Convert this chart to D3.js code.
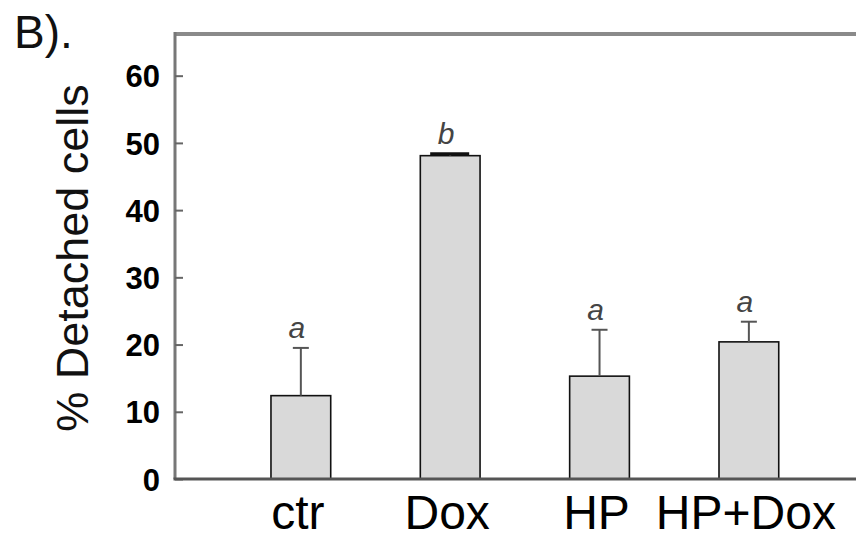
<!DOCTYPE html>
<html>
<head>
<meta charset="utf-8">
<script src="https://cdn.jsdelivr.net/npm/d3@7"></script>
<style>
  html, body { margin: 0; padding: 0; background: #fff; }
  svg { display: block; }
  text { font-family: Arial, "Liberation Sans", sans-serif; }
</style>
</head>
<body>
<script>
const categories = ["ctr", "Dox", "HP", "HP+Dox"];
const means = [12.4, 48.1, 15.3, 20.4];
const errors = [7.1, 0.3, 6.9, 3.0];
const letters = ["a", "b", "a", "a"];
const yTicks = [0, 10, 20, 30, 40, 50, 60];
const yLabel = "% Detached cells";
const panelLabel = "B).";

(function () {
const W = 856, H = 540;
const pLeft = 175, pRight = 856, pTop = 34, pBottom = 479;

const svg = d3.select("body").append("svg").attr("width", W).attr("height", H);

const x = d3.scaleBand().domain(categories).range([pLeft, pRight])
  .paddingInner(0.6).paddingOuter(0.58).align(0.554);
const y = d3.scaleLinear().domain([0, 66.2]).range([pBottom, pTop]);

const data = categories.map((c, i) => ({ c, v: means[i], e: errors[i], l: letters[i] }));

// frame
svg.append("line").attr("x1", pLeft).attr("x2", pRight).attr("y1", pTop).attr("y2", pTop)
  .attr("stroke", "#8a8a8a").attr("stroke-width", 4);
svg.append("line").attr("x1", pLeft).attr("x2", pLeft).attr("y1", pTop - 2).attr("y2", pBottom)
  .attr("stroke", "#777").attr("stroke-width", 3);

// y axis
const yAxis = d3.axisLeft(y).tickValues(yTicks).tickSizeInner(-8).tickSizeOuter(0).tickPadding(15);
const gy = svg.append("g").attr("transform", `translate(${pLeft},0)`).call(yAxis);
gy.select(".domain").remove();
gy.selectAll(".tick line").attr("stroke", "#666").attr("stroke-width", 2);
gy.selectAll(".tick text").attr("fill", "#000").attr("font-size", 31).attr("font-weight", "bold")
  .attr("font-family", "Arial, 'Liberation Sans', sans-serif").attr("dy", "0.36em");

// bars
svg.selectAll("rect.bar").data(data).join("rect").attr("class", "bar")
  .attr("x", d => x(d.c)).attr("width", x.bandwidth())
  .attr("y", d => y(d.v)).attr("height", d => y(0) - y(d.v))
  .attr("fill", "#d9d9d9").attr("stroke", "#111").attr("stroke-width", 1.6);

// error bars
const eb = svg.selectAll("g.err").data(data).join("g").attr("class", "err");
eb.append("line")
  .attr("x1", d => x(d.c) + x.bandwidth() / 2).attr("x2", d => x(d.c) + x.bandwidth() / 2)
  .attr("y1", d => y(d.v)).attr("y2", d => y(d.v + d.e))
  .attr("stroke", "#555").attr("stroke-width", 2);
eb.append("line")
  .attr("x1", d => x(d.c) + x.bandwidth() / 2 - (d.e < 1 ? 20 : 8))
  .attr("x2", d => x(d.c) + x.bandwidth() / 2 + (d.e < 1 ? 19 : 8))
  .attr("y1", d => y(d.v + d.e)).attr("y2", d => y(d.v + d.e))
  .attr("stroke", d => d.e < 1 ? "#111" : "#555").attr("stroke-width", d => d.e < 1 ? 3 : 2);

// significance letters
svg.selectAll("text.sig").data(data).join("text").attr("class", "sig")
  .attr("x", d => x(d.c) + x.bandwidth() / 2 - 4)
  .attr("y", d => y(d.v + d.e) - 10)
  .attr("text-anchor", "middle").attr("font-size", 30).attr("font-style", "italic")
  .attr("fill", "#444").text(d => d.l);

// bottom axis line
svg.append("line").attr("x1", pLeft - 1.5).attr("x2", pRight).attr("y1", pBottom).attr("y2", pBottom)
  .attr("stroke", "#555").attr("stroke-width", 3);

// x labels
const xAxis = d3.axisBottom(x).tickSize(0).tickPadding(0);
const gx = svg.append("g").attr("transform", `translate(0,${pBottom})`).call(xAxis);
gx.select(".domain").remove();
gx.selectAll(".tick text").attr("fill", "#000").attr("font-size", 48)
  .attr("font-family", "Arial, 'Liberation Sans', sans-serif")
  .attr("dy", 0).attr("y", 50).attr("dx", -3);

// y label
svg.append("text").attr("transform", `translate(88,258) rotate(-90)`)
  .attr("text-anchor", "middle").attr("font-size", 45).attr("fill", "#111").text(yLabel);

// panel label
svg.append("text").attr("x", 14).attr("y", 48).attr("font-size", 46).attr("fill", "#111").text(panelLabel);
})();
</script>
</body>
</html>
